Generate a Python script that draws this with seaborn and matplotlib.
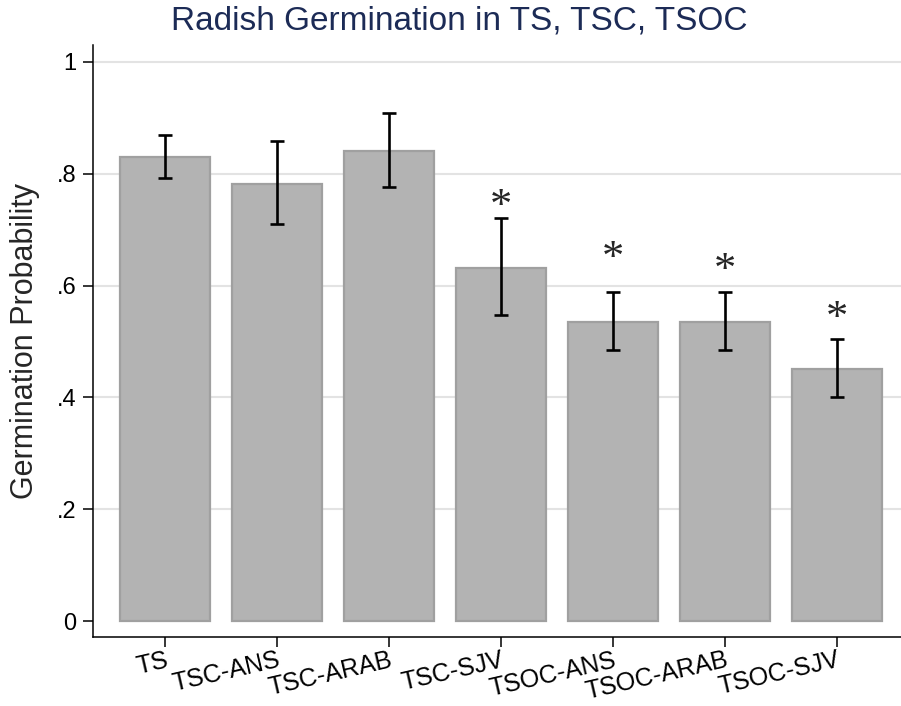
import matplotlib
matplotlib.use("Agg")
import matplotlib.pyplot as plt
import seaborn as sns
import pandas as pd

# values
groups = ["TS", "TSC-ANS", "TSC-ARAB", "TSC-SJV", "TSOC-ANS", "TSOC-ARAB", "TSOC-SJV"]
prob = [0.830, 0.782, 0.841, 0.631, 0.535, 0.535, 0.451]
ci_low = [0.792, 0.710, 0.777, 0.547, 0.485, 0.485, 0.401]
ci_high = [0.870, 0.858, 0.908, 0.721, 0.588, 0.588, 0.504]
# height of the significance star (None = no star)
star_y = [None, None, None, 0.758, 0.665, 0.643, 0.558]
yticks = [0, 0.2, 0.4, 0.6, 0.8, 1.0]
ytick_labels = ["0", ".2", ".4", ".6", ".8", "1"]

df = pd.DataFrame({"group": groups, "prob": prob, "lo": ci_low, "hi": ci_high})

sns.set_style("white")
plt.rcParams["font.family"] = ["Liberation Sans", "DejaVu Sans"]

fig = plt.figure(figsize=(9.01, 7.06), dpi=100)
ax = fig.add_axes([93 / 901, 69 / 706, 808 / 901, 592 / 706])

sns.barplot(data=df, x="group", y="prob", color="#b3b3b3", saturation=1,
            edgecolor="#a0a0a0", linewidth=1.6, width=0.8, errorbar=None, ax=ax)

# confidence intervals
ax.errorbar(range(len(groups)), df["prob"],
            yerr=[df["prob"] - df["lo"], df["hi"] - df["prob"]],
            fmt="none", ecolor="black", elinewidth=1.9, capsize=5, capthick=1.9, zorder=3)

# significance stars
star_fs = 32
for i, sy in enumerate(star_y):
    if sy is not None:
        ax.annotate("*", (i, sy), xytext=(0, -0.47 * star_fs), textcoords="offset points",
                    ha="center", va="baseline", fontsize=star_fs, family="Liberation Serif")

ax.set_xlim(-0.643, 6.571)
ax.set_ylim(-0.0286, 1.0304)
ax.set_yticks(yticks)
ax.set_yticklabels(ytick_labels)
ax.yaxis.grid(True, color="#e3e3e3", linewidth=1.5)
ax.yaxis.get_gridlines()[0].set_visible(False)
ax.set_axisbelow(True)

for side in ["top", "right"]:
    ax.spines[side].set_visible(False)
for side in ["left", "bottom"]:
    ax.spines[side].set_color("black")
    ax.spines[side].set_linewidth(1.1)

ax.tick_params(axis="both", direction="out", length=7, width=1.1, color="black",
               labelcolor="black", bottom=True, left=True)
ax.tick_params(axis="y", pad=5, labelsize=17)
ax.tick_params(axis="x", pad=1, labelsize=18)
plt.setp(ax.get_xticklabels(), rotation=13, ha="right", rotation_mode="anchor")

ax.set_xlabel("")
ax.set_ylabel("")
fig.text(25 / 901, 1 - 341 / 706, "Germination Probability", rotation=90,
         ha="center", va="center", fontsize=22)
fig.text(459.5 / 901, 1 - 30 / 706, "Radish Germination in TS, TSC, TSOC",
         ha="center", va="baseline", fontsize=24, color="#1c2b56")

fig.savefig("out.png", dpi=100)
